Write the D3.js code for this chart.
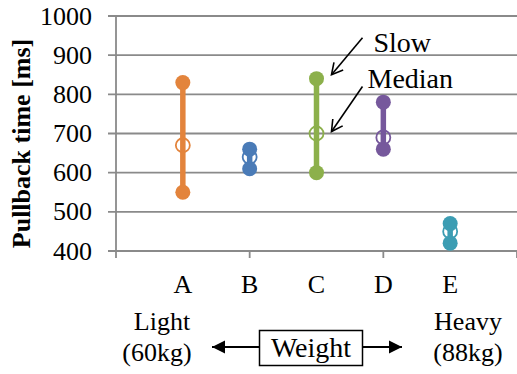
<!DOCTYPE html>
<html>
<head>
<meta charset="utf-8">
<script src="https://cdn.jsdelivr.net/npm/d3@7"></script>
<style>
  body { margin: 0; background: #fff; }
</style>
</head>
<body>
<div id="chart"></div>
<script>
// pullback time per user, sorted by weight
const users = ["A", "B", "C", "D", "E"];
const slowMs = [830, 660, 840, 780, 470];
const medianMs = [670, 640, 700, 690, 450];
const fastMs = [550, 610, 600, 660, 420];
const colors = ["#E3843C", "#4A7BB7", "#8CB04B", "#76589C", "#3C9DB3"];
const yTicks = [400, 500, 600, 700, 800, 900, 1000];
const xTicks = [0, 2, 4, 6];

(function(){
    const W = 517, H = 374;
    const serif = "'Liberation Serif', 'Times New Roman', serif";
    const svg = d3.select("#chart").append("svg")
        .attr("width", W)
        .attr("height", H);

    svg.append("rect").attr("width", W).attr("height", H).attr("fill", "#fff");

    const x = d3.scaleLinear().domain([0, 6]).range([116, 517]);
    const y = d3.scaleLinear().domain([400, 1000]).range([251, 16]);

    const grey = "#8a8a8a";

    function label(parent, txt, px, py, size, anchor) {
        return parent.append("text")
            .attr("x", px).attr("y", py)
            .attr("text-anchor", anchor || "middle")
            .attr("font-family", serif)
            .attr("font-size", size)
            .attr("fill", "#000")
            .text(txt);
    }

    // horizontal gridlines (they also carry the y tick marks)
    svg.append("g")
        .selectAll("line")
        .data(yTicks.slice(1))
        .join("line")
        .attr("x1", 108).attr("x2", x(6))
        .attr("y1", d => y(d)).attr("y2", d => y(d))
        .attr("stroke", grey)
        .attr("stroke-width", 1.8);

    // axes
    svg.append("line")
        .attr("x1", x(0)).attr("x2", x(0))
        .attr("y1", y(1000)).attr("y2", y(400) + 7)
        .attr("stroke", grey).attr("stroke-width", 1.8);
    svg.append("line")
        .attr("x1", 108).attr("x2", x(6))
        .attr("y1", y(400)).attr("y2", y(400))
        .attr("stroke", grey).attr("stroke-width", 1.8);
    svg.append("g")
        .selectAll("line")
        .data(xTicks.slice(1))
        .join("line")
        .attr("x1", d => x(d)).attr("x2", d => x(d))
        .attr("y1", y(400)).attr("y2", y(400) + 7)
        .attr("stroke", grey).attr("stroke-width", 1.8);

    // y tick labels
    const yl = svg.append("g");
    yTicks.forEach(t => label(yl, t, 92, y(t) + 8.5, 26, "end"));

    // y title
    svg.append("text")
        .attr("transform", "translate(30," + ((y(1000) + y(400)) / 2 + 10) + ") rotate(-90)")
        .attr("text-anchor", "middle")
        .attr("font-family", serif)
        .attr("font-size", 26)
        .attr("font-weight", "bold")
        .text("Pullback time [ms]");

    // range lines + markers
    const g = svg.append("g");
    users.forEach((u, i) => {
        const cx = x(i + 1);
        g.append("line")
            .attr("x1", cx).attr("x2", cx)
            .attr("y1", y(slowMs[i])).attr("y2", y(fastMs[i]))
            .attr("stroke", colors[i])
            .attr("stroke-width", 5.5);
        g.append("circle")
            .attr("cx", cx).attr("cy", y(medianMs[i]))
            .attr("r", 7)
            .attr("fill", "none")
            .attr("stroke", colors[i])
            .attr("stroke-width", 1.8);
        [slowMs[i], fastMs[i]].forEach(v => {
            g.append("circle")
                .attr("cx", cx).attr("cy", y(v))
                .attr("r", 7.5)
                .attr("fill", colors[i]);
        });
    });

    // category labels
    const xl = svg.append("g");
    users.forEach((u, i) => label(xl, u, x(i + 1), 293, 26));

    // annotation arrows pointing at user C
    const defs = svg.append("defs");
    defs.append("marker")
        .attr("id", "openHead")
        .attr("viewBox", "-12 -7 14 14")
        .attr("markerWidth", 14).attr("markerHeight", 14)
        .attr("markerUnits", "userSpaceOnUse")
        .attr("orient", "auto")
        .append("path")
        .attr("d", "M-11,-6L0,0L-11,6")
        .attr("fill", "none")
        .attr("stroke", "#000")
        .attr("stroke-width", 1.6);
    defs.append("marker")
        .attr("id", "solidHead")
        .attr("viewBox", "-14 -7 15 14")
        .attr("markerWidth", 15).attr("markerHeight", 14)
        .attr("markerUnits", "userSpaceOnUse")
        .attr("orient", "auto")
        .append("path")
        .attr("d", "M-13,-6.5L0,0L-13,6.5Z")
        .attr("fill", "#000");

    const cX = x(3);
    const notes = [
        { label: "Slow", v: slowMs[2], tipDy: -4, tailDy: -37, textDx: 57, textY: 52 },
        { label: "Median", v: medianMs[2], tipDy: -2, tailDy: -45, textDx: 51, textY: 88 }
    ];
    notes.forEach(n => {
        const ty = y(n.v) + n.tipDy;
        svg.append("line")
            .attr("x1", cX + 46).attr("y1", ty + n.tailDy)
            .attr("x2", cX + 15).attr("y2", ty)
            .attr("stroke", "#000")
            .attr("stroke-width", 1.6)
            .attr("marker-end", "url(#openHead)");
        label(svg, n.label, cX + n.textDx, n.textY, 28, "start");
    });

    // weight legend under the axis
    label(svg, "Light", 162, 330, 26);
    label(svg, "(60kg)", 157, 361, 26);
    label(svg, "Heavy", 468, 330, 26);
    label(svg, "(88kg)", 468, 361, 26);

    svg.append("rect")
        .attr("x", 259.5).attr("y", 330.5)
        .attr("width", 103).attr("height", 35)
        .attr("fill", "#fff")
        .attr("stroke", "#000")
        .attr("stroke-width", 1.5);
    label(svg, "Weight", 311, 357, 28);
    svg.append("line")
        .attr("x1", 259).attr("y1", 347).attr("x2", 212).attr("y2", 347)
        .attr("stroke", "#000").attr("stroke-width", 2)
        .attr("marker-end", "url(#solidHead)");
    svg.append("line")
        .attr("x1", 363).attr("y1", 347).attr("x2", 402).attr("y2", 347)
        .attr("stroke", "#000").attr("stroke-width", 2)
        .attr("marker-end", "url(#solidHead)");
})();
</script>
</body>
</html>
